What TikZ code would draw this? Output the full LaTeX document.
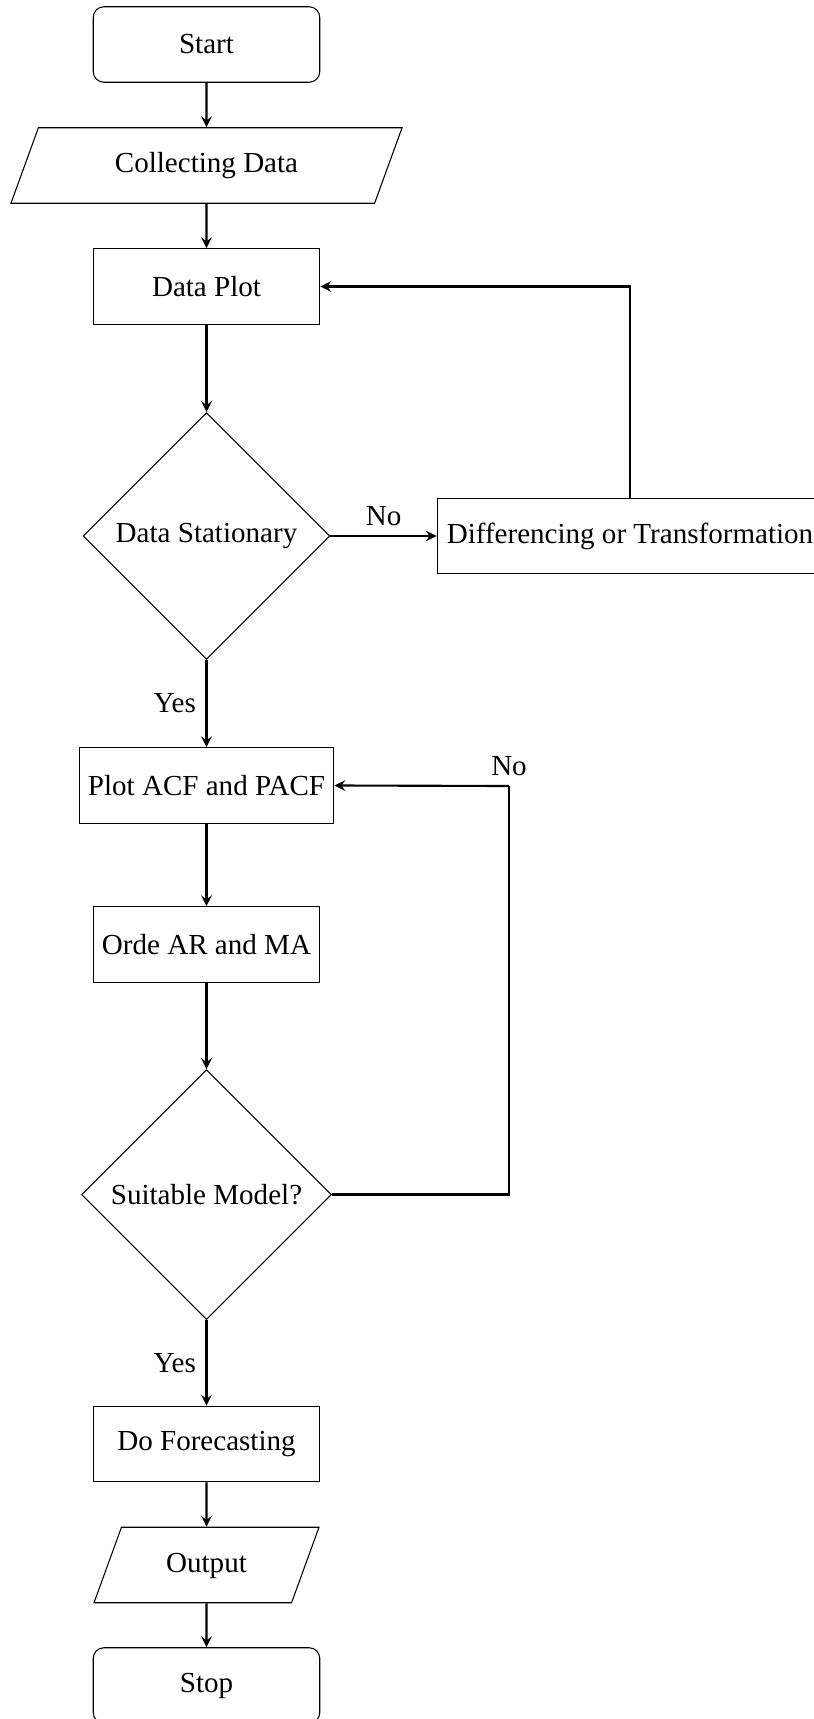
\documentclass[tikz,border=0pt]{standalone}
\usepackage{fontspec}
\setmainfont{Liberation Serif}
\usetikzlibrary{shapes.geometric,arrows}
\begin{document}
\begin{tikzpicture}[x=0.013245cm,y=-0.013245cm,
  font=\fontsize{10.95}{13.5}\selectfont,
  base/.style={draw, line width=0.4pt, minimum height=1cm, align=center},
  term/.style={base, rectangle, rounded corners=4pt, minimum width=3cm},
  proc/.style={base, rectangle, minimum width=3cm},
  io/.style={base, trapezium, trapezium left angle=70, trapezium right angle=110,
    trapezium stretches body, text height=8pt, text depth=2.5pt, inner ysep=8.97pt},
  decision/.style={base, diamond, aspect=1, inner sep=1pt},
  arr/.style={->, >=stealth, thick},
  lbl/.style={inner sep=3.6pt}]
\useasboundingbox (0,0) rectangle (814,1719);

\node[term] (start) at (206.5,44.5) {Start};
\node[io, minimum width=5.18cm] (collect) at (206.5,165.5) {Collecting Data};
\node[proc] (plot) at (206.5,286.5) {Data Plot};
\node[decision, minimum size=3.27cm] (stat) at (206.5,536) {Data Stationary};
\node[proc, minimum width=5.11cm] (diff) at (630,536) {Differencing or Transformation};
\node[proc] (acf) at (206.5,785.5) {Plot ACF and PACF};
\node[proc] (orde) at (206.5,944.5) {Orde AR and MA};
\node[decision, minimum size=3.31cm] (suit) at (206.5,1194.5) {Suitable Model?};
\node[proc] (fore) at (206.5,1444) {Do Forecasting};
\node[io, minimum width=2.98cm] (out) at (206.5,1565) {Output};
\node[term] (stop) at (206.5,1685.5) {Stop};
\coordinate (c2) at (509,786);

\draw[arr] (start) -- (collect);
\draw[arr] (collect) -- (plot);
\draw[arr] (plot) -- (stat);
\draw[arr] (stat) -- node[lbl, above] {No} (diff);
\draw[arr] (diff.north) |- (plot.east);
\draw[arr] (stat) -- node[lbl, left] {Yes} (acf);
\draw[arr] (acf) -- (orde);
\draw[arr] (orde) -- (suit);
\draw[thick] (suit.east) -| (c2);
\draw[arr] (c2) -- (acf.east);
\node[lbl, above] (nolbl) at (c2) {No};
\draw[arr] (suit) -- node[lbl, left] {Yes} (fore);
\draw[arr] (fore) -- (out);
\draw[arr] (out) -- (stop);
\end{tikzpicture}
\end{document}
